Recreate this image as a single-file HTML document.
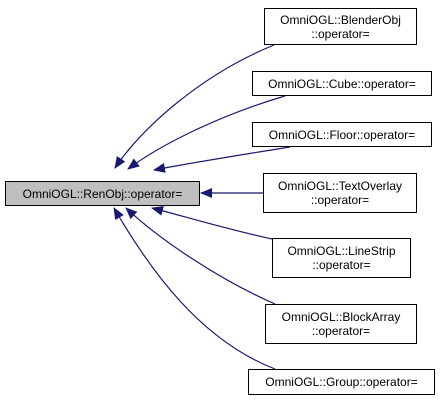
<!DOCTYPE html>
<html><head><style>
body{margin:0;background:#fff;width:440px;height:401px;overflow:hidden;position:relative;font-family:"Liberation Sans",sans-serif;}
.b{position:absolute;box-sizing:border-box;border:1px solid #000;background:#fff;font-size:12px;line-height:14px;text-align:center;display:flex;flex-direction:column;justify-content:center;}
svg{position:absolute;left:0;top:0}
</style></head><body>
<svg width="440" height="401">
<defs><marker id="a" markerWidth="12" markerHeight="10" refX="11" refY="5" orient="auto" markerUnits="userSpaceOnUse"><path d="M0,0 L12,5 L0,10 z" fill="#191970"/></marker></defs>
<g stroke="#191970" stroke-width="1.2" fill="none" marker-end="url(#a)">
<path d="M274,45 C200,75 140,130 115,168"/>
<path d="M285,96 C220,115 160,145 128,169"/>
<path d="M290,147 C240,155 190,163 154,170"/>
<path d="M263,193 L201,193"/>
<path d="M272,239 C230,230 190,218 152,208"/>
<path d="M275,304 C220,280 160,240 126,208"/>
<path d="M275,369 C200,340 150,270 114,208"/>
</g>
</svg>
<div class="b" style="left:5px;top:181px;width:195px;height:25px;background:#bfbfbf;">OmniOGL::RenObj::operator=</div>
<div class="b" style="left:264px;top:8px;width:153px;height:37px;">OmniOGL::BlenderObj<br>::operator=</div>
<div class="b" style="left:252px;top:71px;width:180px;height:25px;">OmniOGL::Cube::operator=</div>
<div class="b" style="left:252px;top:122px;width:180px;height:25px;">OmniOGL::Floor::operator=</div>
<div class="b" style="left:263px;top:173px;width:154px;height:40px;">OmniOGL::TextOverlay<br>::operator=</div>
<div class="b" style="left:272px;top:238px;width:139px;height:40px;">OmniOGL::LineStrip<br>::operator=</div>
<div class="b" style="left:265px;top:304px;width:152px;height:40px;">OmniOGL::BlockArray<br>::operator=</div>
<div class="b" style="left:248px;top:369px;width:187px;height:26px;">OmniOGL::Group::operator=</div>
</body></html>
